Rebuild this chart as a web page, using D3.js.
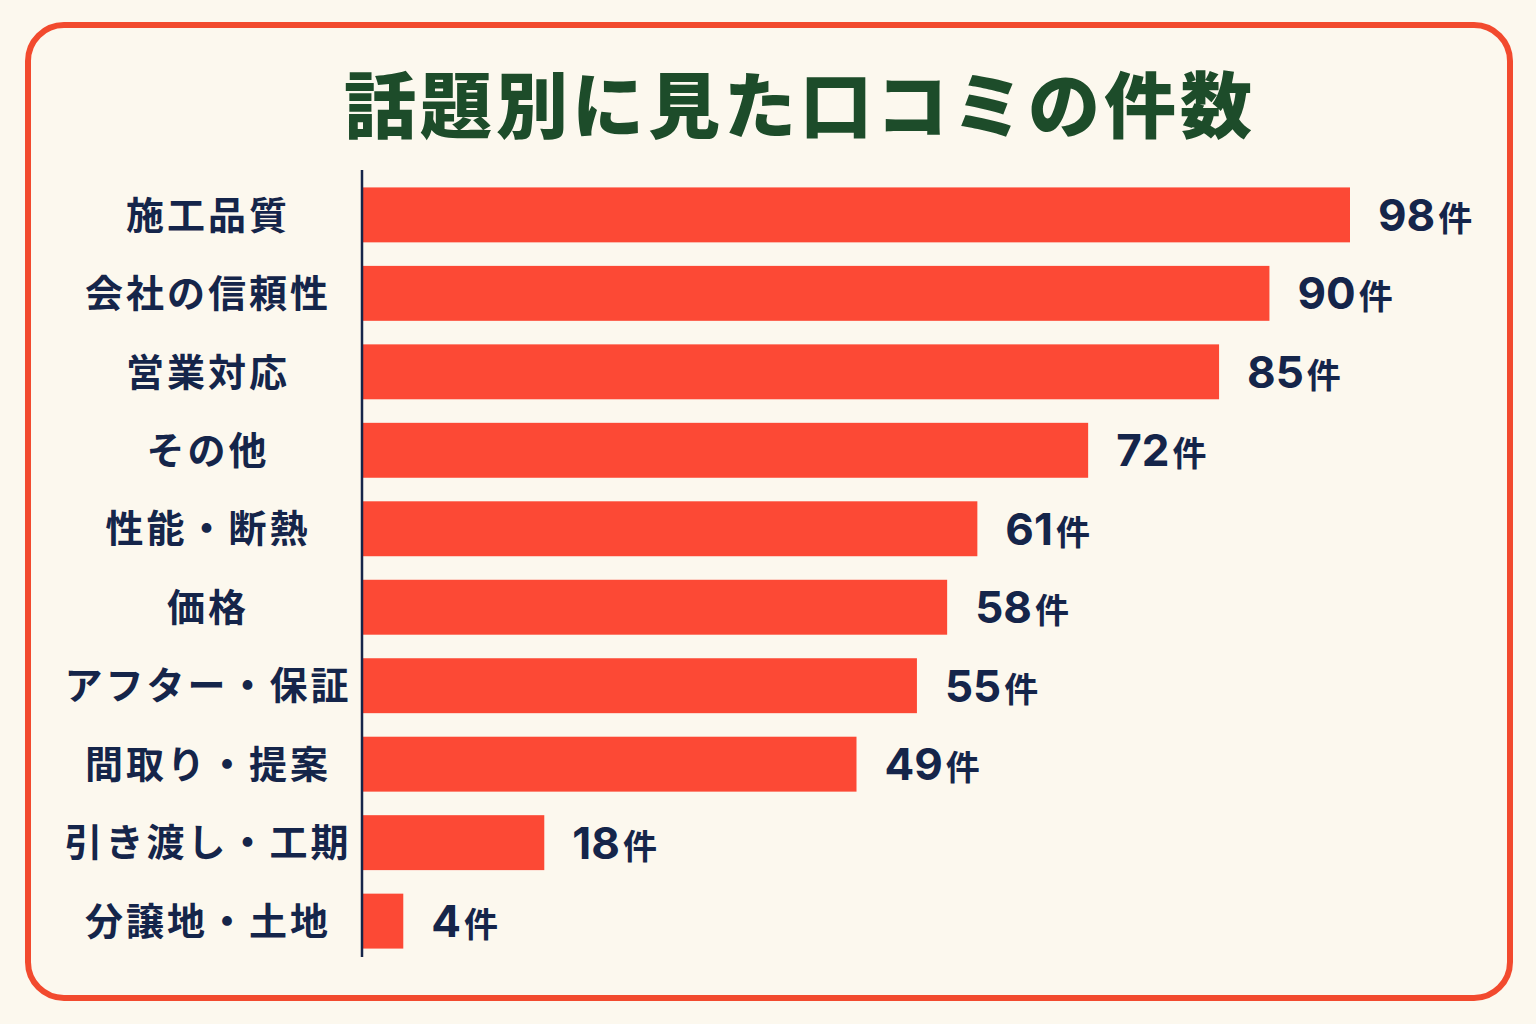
<!DOCTYPE html>
<html>
<head>
<meta charset="utf-8">
<script src="https://cdn.jsdelivr.net/npm/d3@7"></script>
<style>
  html, body { margin: 0; padding: 0; background: #fcf8ee; }
  svg { display: block; }
  text { font-family: "Noto Sans CJK JP", "Noto Sans", sans-serif; }
</style>
</head>
<body>
<svg id="chart" width="1536" height="1024"></svg>
<script>
// data
const categories = ["施工品質", "会社の信頼性", "営業対応", "その他", "性能・断熱",
  "価格", "アフター・保証", "間取り・提案", "引き渡し・工期", "分譲地・土地"];
const counts = [98, 90, 85, 72, 61, 58, 55, 49, 18, 4];
const unit = "件";
const title = "話題別に見た口コミの件数";

const width = 1536, height = 1024;
const svg = d3.select("#chart");

// frame
svg.append("rect")
  .attr("x", 28).attr("y", 25)
  .attr("width", 1482).attr("height", 973)
  .attr("rx", 36).attr("ry", 36)
  .attr("fill", "#fcf8ee")
  .attr("stroke", "#f24a2e")
  .attr("stroke-width", 6);

svg.append("text")
  .attr("x", 800).attr("y", 132)
  .attr("text-anchor", "middle")
  .attr("font-size", 72)
  .attr("font-weight", 900)
  .attr("letter-spacing", 4)
  .attr("fill", "#1d4c2a")
  .text(title);

const data = categories.map((c, i) => ({ cat: c, value: counts[i] }));

const x = d3.scaleLinear()
  .domain([0, 98])
  .range([363, 1350]);

const y = d3.scaleBand()
  .domain(categories)
  .range([178, 958])
  .paddingInner(0.3)
  .paddingOuter(0.12);

// bars
svg.append("g")
  .selectAll("rect")
  .data(data)
  .join("rect")
  .attr("x", x(0))
  .attr("y", d => y(d.cat))
  .attr("width", d => x(d.value) - x(0))
  .attr("height", y.bandwidth())
  .attr("fill", "#fc4935");

// axis line on the left
const yAxis = d3.axisLeft(y).tickSize(0).tickFormat("");
const axisG = svg.append("g")
  .attr("transform", `translate(${x(0) - 1},0)`)
  .call(yAxis);
axisG.select(".domain")
  .attr("d", "M0,170V957")
  .attr("stroke", "#15254a")
  .attr("stroke-width", 2.5);

// category labels
svg.append("g")
  .selectAll("text")
  .data(data)
  .join("text")
  .attr("x", 208)
  .attr("y", d => y(d.cat) + y.bandwidth() / 2)
  .attr("dy", "0.36em")
  .attr("text-anchor", "middle")
  .attr("font-size", 38)
  .attr("font-weight", 700)
  .attr("letter-spacing", 3)
  .attr("fill", "#15254a")
  .text(d => d.cat);

// value labels
const vl = svg.append("g")
  .selectAll("text")
  .data(data)
  .join("text")
  .attr("x", d => x(d.value) + 28)
  .attr("y", d => y(d.cat) + y.bandwidth() / 2 + 16)
  .attr("font-size", 44)
  .attr("fill", "#15254a")
  .attr("font-weight", 700);
vl.append("tspan")
  .attr("font-family", "Inter, 'Noto Sans', sans-serif")
  .text(d => d.value);
vl.append("tspan")
  .attr("font-size", 34)
  .attr("dx", 3)
  .text(unit);
</script>
</body>
</html>
